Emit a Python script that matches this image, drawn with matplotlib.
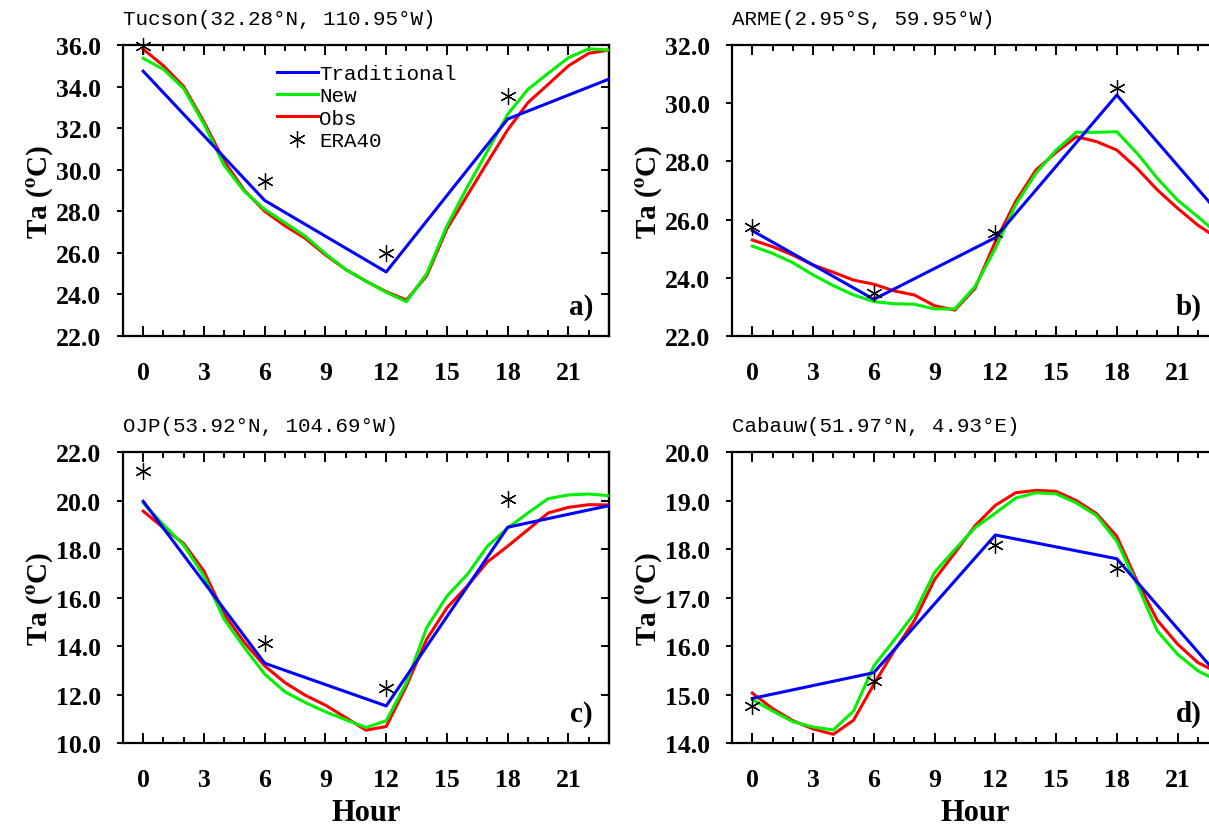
import matplotlib
matplotlib.use("Agg")
import matplotlib.pyplot as plt
from matplotlib.ticker import MultipleLocator, FormatStrFormatter

plt.rcParams['mathtext.fontset'] = 'stix'

hours = list(range(24))
trad_hours = [0, 6, 12, 18, 23]
era_hours = [0, 6, 12, 18]

# Panel a: Tucson
tucson_trad = [34.74, 28.52, 25.08, 32.44, 34.36]
tucson_new = [35.36, 34.83, 33.9, 32.2, 30.2, 28.95, 28.09, 27.45, 26.8, 25.96, 25.2, 24.64,
              24.1, 23.65, 25.0, 27.3, 29.16, 30.9, 32.67, 33.87, 34.64, 35.39, 35.82, 35.76]
tucson_obs = [35.8, 35.0, 34.0, 32.3, 30.4, 29.0, 28.0, 27.3, 26.7, 25.9, 25.2, 24.64,
              24.13, 23.73, 24.9, 27.16, 28.76, 30.36, 31.92, 33.23, 34.11, 35.0, 35.6, 35.76]
tucson_era = [35.95, 29.48, 26.0, 33.55]

# Panel b: ARME
arme_trad = [25.62, 23.26, 25.38, 30.28, 26.25]
arme_new = [25.09, 24.84, 24.52, 24.1, 23.73, 23.41, 23.18, 23.11, 23.09, 22.93, 22.93, 23.7,
            25.01, 26.5, 27.59, 28.39, 29.0, 29.0, 29.02, 28.28, 27.42, 26.67, 26.1, 25.5]
arme_obs = [25.3, 25.07, 24.78, 24.44, 24.19, 23.92, 23.78, 23.55, 23.41, 23.04, 22.89, 23.64,
            25.24, 26.62, 27.7, 28.31, 28.85, 28.68, 28.39, 27.76, 27.02, 26.39, 25.81, 25.35]
arme_era = [25.76, 23.47, 25.53, 30.51]

# Panel c: OJP
ojp_trad = [19.97, 13.29, 11.53, 18.9, 19.79]
ojp_new = [19.9, 19.0, 18.16, 16.88, 15.1, 13.93, 12.84, 12.11, 11.67, 11.29, 10.96, 10.64,
           10.92, 12.49, 14.76, 16.06, 16.95, 18.12, 18.87, 19.49, 20.08, 20.23, 20.27, 20.2]
ojp_obs = [19.56, 18.87, 18.23, 17.09, 15.31, 14.14, 13.18, 12.49, 11.97, 11.56, 11.05, 10.53,
           10.68, 12.36, 14.28, 15.58, 16.47, 17.47, 18.12, 18.8, 19.49, 19.72, 19.83, 19.82]
ojp_era = [21.2, 14.14, 12.25, 20.08]

# Panel d: Cabauw
cabauw_trad = [14.92, 15.45, 18.29, 17.8, 15.4]
cabauw_new = [14.9, 14.66, 14.44, 14.33, 14.27, 14.66, 15.59, 16.12, 16.67, 17.52, 17.99, 18.44,
              18.74, 19.05, 19.16, 19.14, 18.95, 18.69, 18.16, 17.27, 16.31, 15.83, 15.49, 15.28]
cabauw_obs = [15.03, 14.71, 14.46, 14.29, 14.18, 14.47, 15.21, 15.9, 16.52, 17.37, 17.92, 18.48,
              18.9, 19.16, 19.21, 19.19, 19.0, 18.73, 18.26, 17.34, 16.53, 16.04, 15.66, 15.45]
cabauw_era = [14.77, 15.28, 18.09, 17.61]

titles = ["Tucson(32.28\u00b0N, 110.95\u00b0W)", "ARME(2.95\u00b0S, 59.95\u00b0W)",
          "OJP(53.92\u00b0N, 104.69\u00b0W)", "Cabauw(51.97\u00b0N, 4.93\u00b0E)"]
panel_labels = ["a)", "b)", "c)", "d)"]
ylims = [(22, 36), (22, 32), (10, 22), (14, 20)]
ysteps = [2, 2, 2, 1]
xticks = [0, 3, 6, 9, 12, 15, 18, 21]

data = [
    (tucson_trad, tucson_new, tucson_obs, tucson_era),
    (arme_trad, arme_new, arme_obs, arme_era),
    (ojp_trad, ojp_new, ojp_obs, ojp_era),
    (cabauw_trad, cabauw_new, cabauw_obs, cabauw_era),
]

positions = [
    [0.1017, 0.5935, 0.402, 0.351],
    [0.6055, 0.5935, 0.402, 0.351],
    [0.1017, 0.1025, 0.402, 0.351],
    [0.6055, 0.1025, 0.402, 0.351],
]

BLUE = '#0000ff'
GREEN = '#00f000'
RED = '#ff0000'
serif = 'Liberation Serif'
mono = 'Liberation Mono'

fig = plt.figure(figsize=(12.09, 8.29), dpi=100)

for i, (pos, (trad, new, obs, era)) in enumerate(zip(positions, data)):
    ax = fig.add_axes(pos)
    ax.plot(hours, obs, color=RED, lw=2.2, label='Obs', zorder=3)
    ax.plot(hours, new, color=GREEN, lw=2.2, label='New', zorder=3)
    ax.plot(trad_hours, trad, color=BLUE, lw=2.2, label='Traditional', zorder=4)
    ax.plot(era_hours, era, linestyle='none', marker=(6, 2, 0), markersize=12,
            markeredgewidth=0.9, color='black', label='ERA40', zorder=5, clip_on=False)
    ax.set_xlim(-1, 23)
    ax.set_ylim(*ylims[i])
    ax.set_xticks(xticks)
    ax.xaxis.set_minor_locator(MultipleLocator(1))
    ax.yaxis.set_major_locator(MultipleLocator(ysteps[i]))
    ax.yaxis.set_major_formatter(FormatStrFormatter('%.1f'))
    for sp in ax.spines.values():
        sp.set_linewidth(1.6)
    ax.tick_params(axis='x', which='both', direction='in', top=True, bottom=True, width=1.4)
    ax.tick_params(axis='x', which='major', length=7, pad=18)
    ax.tick_params(axis='x', which='minor', length=4)
    ax.tick_params(axis='y', which='major', direction='out', left=True, right=False,
                   length=4, width=1.4, pad=12)
    ax.tick_params(axis='y', which='minor', left=False, right=False)
    # inward ticks on the right spine
    ax2 = ax.secondary_yaxis('right')
    ax2.yaxis.set_major_locator(MultipleLocator(ysteps[i]))
    ax2.tick_params(axis='y', direction='in', length=6, width=1.4, labelright=False)
    ax2.spines['right'].set_linewidth(1.6)
    for lab in ax.get_xticklabels() + ax.get_yticklabels():
        lab.set_fontfamily(serif)
        lab.set_fontweight('bold')
        lab.set_fontsize(18.5)
    ax.set_ylabel(r'Ta ($^{\mathbf{o}}$C)', fontfamily=serif, fontweight='bold', fontsize=21)
    ax.yaxis.set_label_coords(-0.14, 0.5)
    if i >= 2:
        ax.set_xlabel('Hour', fontfamily=serif, fontweight='bold', fontsize=22)
        ax.xaxis.set_label_coords(0.5, -0.19)
    ax.set_title(titles[i], loc='left', fontfamily=mono, fontsize=15, pad=15)
    ax.text(0.967, 0.103, panel_labels[i], transform=ax.transAxes, ha='right', va='center',
            fontfamily=serif, fontweight='bold', fontsize=21)
    if i == 0:
        h, l = ax.get_legend_handles_labels()
        order = [2, 1, 0, 3]
        leg = ax.legend([h[k] for k in order], [l[k] for k in order],
                        loc='upper left', bbox_to_anchor=(0.316, 0.935), frameon=False,
                        prop={'family': mono, 'size': 15}, handlelength=2.0,
                        handletextpad=0.05, labelspacing=0.16, borderpad=0.0,
                        borderaxespad=0.0)

fig.savefig('out.png', dpi=100)
